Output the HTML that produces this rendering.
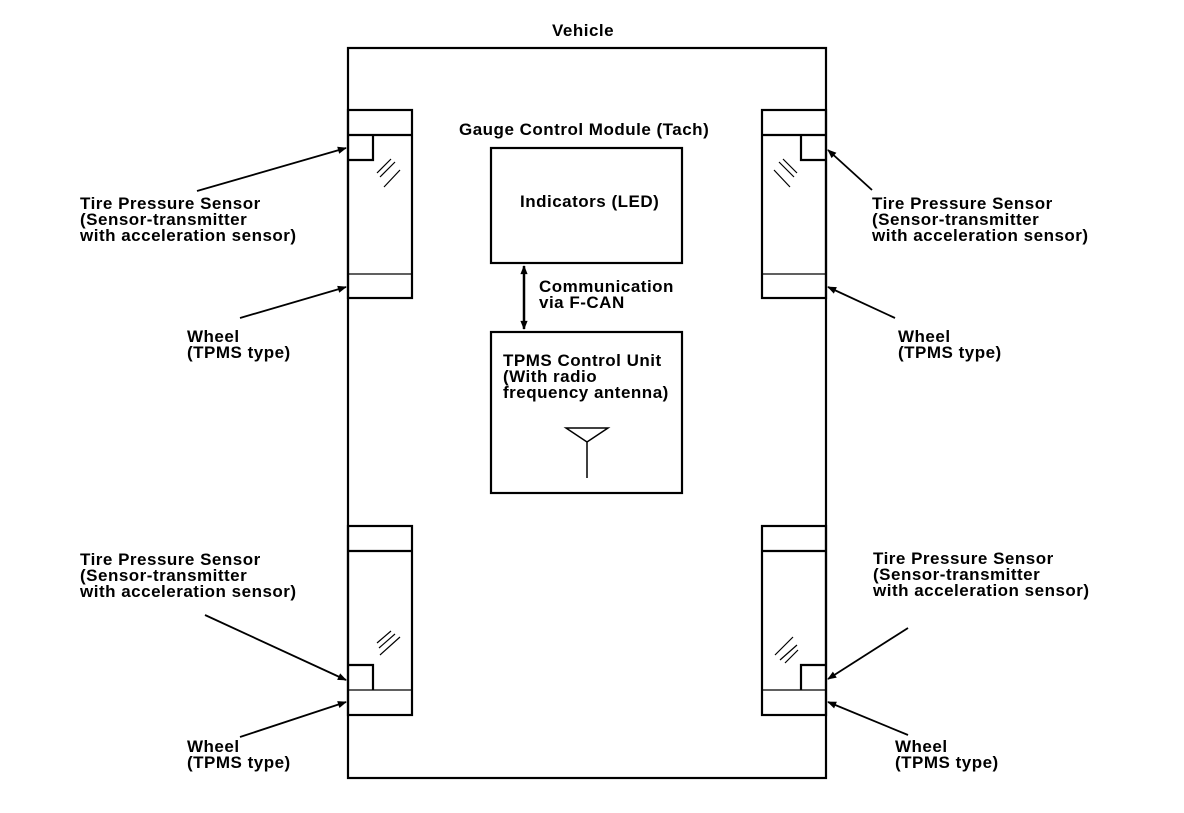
<!DOCTYPE html>
<html><head><style>
body{margin:0;background:#fff;}
svg text{font-family:"Liberation Sans",Arial,sans-serif;font-weight:bold;font-size:17px;letter-spacing:0.5px;fill:#000;}
</style></head><body>
<svg width="1184" height="808" viewBox="0 0 1184 808" xmlns="http://www.w3.org/2000/svg">
<defs>
<marker id="a" viewBox="0 0 10 10" refX="9" refY="5" markerWidth="12" markerHeight="9" orient="auto-start-reverse" markerUnits="userSpaceOnUse"><path d="M0,1 L10,5 L0,9 z" fill="#000"/></marker>
</defs>
<g fill="none" stroke="#000" stroke-width="2.2">
<rect x="348" y="48" width="478" height="730"/>
<rect x="348" y="110" width="64" height="188"/>
<line x1="348" y1="135" x2="412" y2="135"/>
<line x1="348" y1="274" x2="412" y2="274" stroke-width="1.2"/>
<path d="M348,160 H373 V135"/>
<rect x="762" y="110" width="64" height="188"/>
<line x1="762" y1="135" x2="826" y2="135"/>
<line x1="762" y1="274" x2="826" y2="274" stroke-width="1.2"/>
<path d="M826,160 H801 V135"/>
<rect x="348" y="526" width="64" height="189"/>
<line x1="348" y1="551" x2="412" y2="551"/>
<line x1="348" y1="690" x2="412" y2="690" stroke-width="1.2"/>
<path d="M348,665 H373 V690"/>
<rect x="762" y="526" width="64" height="189"/>
<line x1="762" y1="551" x2="826" y2="551"/>
<line x1="762" y1="690" x2="826" y2="690" stroke-width="1.2"/>
<path d="M826,665 H801 V690"/>
<rect x="491" y="148" width="191" height="115"/>
<rect x="491" y="332" width="191" height="161"/>
<line x1="524" y1="266" x2="524" y2="329" stroke-width="2.5" marker-start="url(#a)" marker-end="url(#a)"/>
<path d="M566,428 L587,442 L608,428 Z M587,442 V478" stroke-width="1.5"/>
</g>
<g stroke="#000" stroke-width="1.2">
<path d="M377,173 L391,159 M380,177 L395,162 M384,187 L400,170"/>
<path d="M797,173 L783,159 M794,177 L779,162 M790,187 L774,170"/>
<path d="M379,648 L395,634 M377,643 L391,631 M380,655 L400,637"/>
<path d="M775,655 L793,637 M780,660 L797,645 M785,663 L798,650"/>
</g>
<g stroke="#000" stroke-width="1.8" fill="none">
<line x1="197" y1="191" x2="346" y2="148" marker-end="url(#a)"/>
<line x1="240" y1="318" x2="346" y2="287" marker-end="url(#a)"/>
<line x1="872" y1="190" x2="828" y2="150" marker-end="url(#a)"/>
<line x1="895" y1="318" x2="828" y2="287" marker-end="url(#a)"/>
<line x1="205" y1="615" x2="346" y2="680" marker-end="url(#a)"/>
<line x1="240" y1="737" x2="346" y2="702" marker-end="url(#a)"/>
<line x1="908" y1="628" x2="828" y2="679" marker-end="url(#a)"/>
<line x1="908" y1="735" x2="828" y2="702" marker-end="url(#a)"/>
</g>
<text x="552" y="36">Vehicle</text>
<text x="459" y="135">Gauge Control Module (Tach)</text>
<text x="520" y="207">Indicators (LED)</text>
<text x="539" y="292">Communication</text>
<text x="539" y="308">via F-CAN</text>
<text x="503" y="366">TPMS Control Unit</text>
<text x="503" y="382">(With radio</text>
<text x="503" y="398">frequency antenna)</text>
<text x="80" y="209">Tire Pressure Sensor</text>
<text x="80" y="225">(Sensor-transmitter</text>
<text x="80" y="241">with acceleration sensor)</text>
<text x="187" y="342">Wheel</text>
<text x="187" y="358">(TPMS type)</text>
<text x="872" y="209">Tire Pressure Sensor</text>
<text x="872" y="225">(Sensor-transmitter</text>
<text x="872" y="241">with acceleration sensor)</text>
<text x="898" y="342">Wheel</text>
<text x="898" y="358">(TPMS type)</text>
<text x="80" y="565">Tire Pressure Sensor</text>
<text x="80" y="581">(Sensor-transmitter</text>
<text x="80" y="597">with acceleration sensor)</text>
<text x="187" y="752">Wheel</text>
<text x="187" y="768">(TPMS type)</text>
<text x="873" y="564">Tire Pressure Sensor</text>
<text x="873" y="580">(Sensor-transmitter</text>
<text x="873" y="596">with acceleration sensor)</text>
<text x="895" y="752">Wheel</text>
<text x="895" y="768">(TPMS type)</text>
</svg>
</body></html>
